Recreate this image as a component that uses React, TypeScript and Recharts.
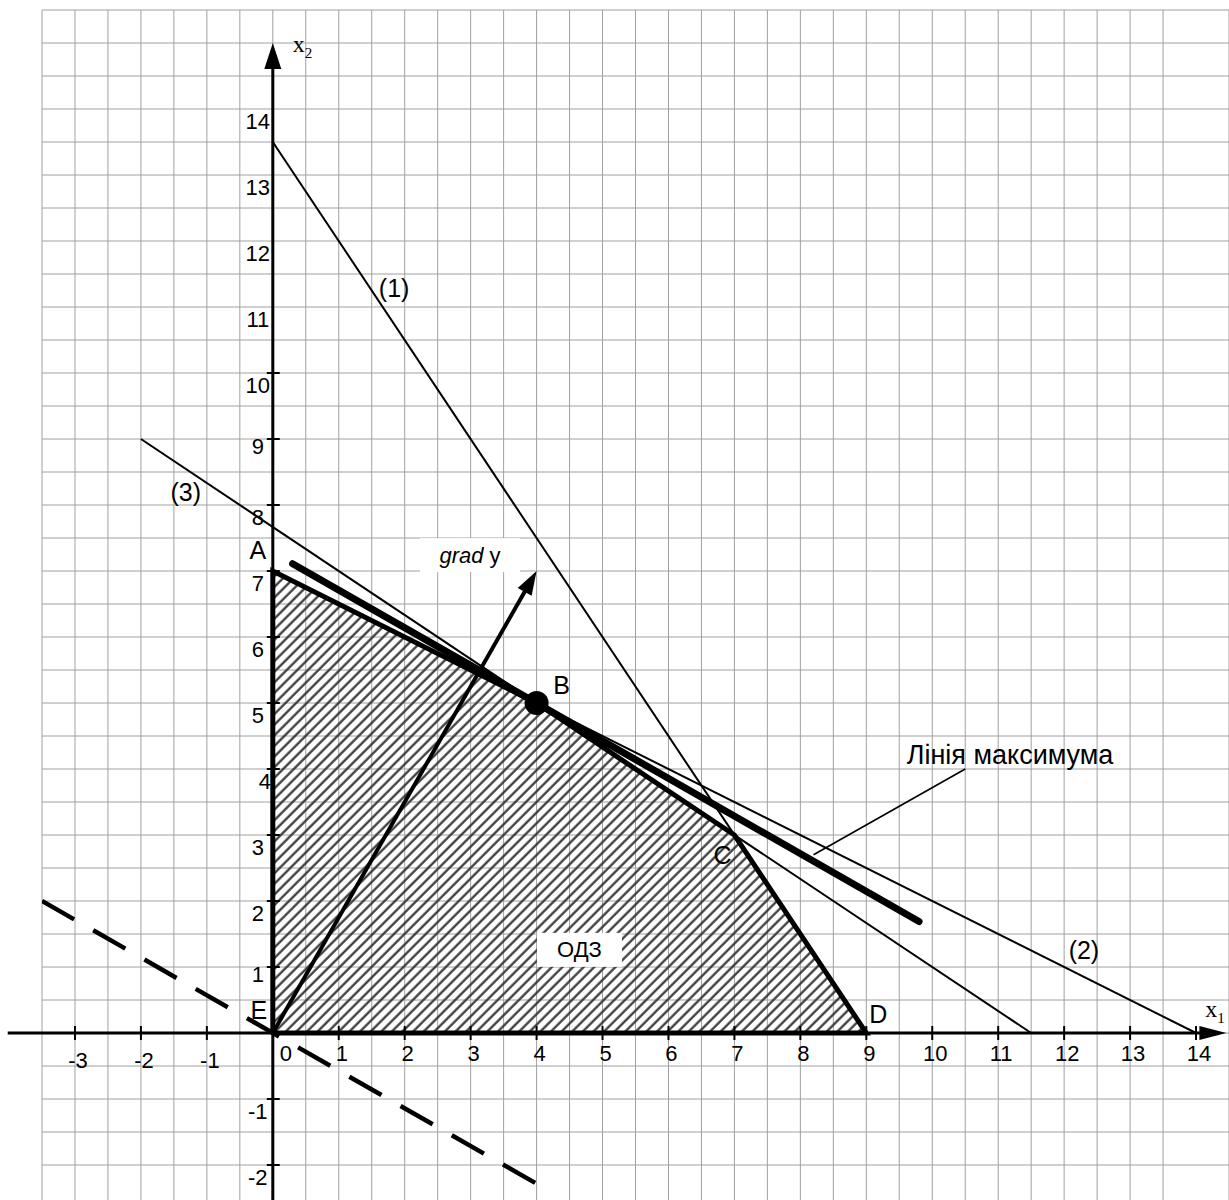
import { ComposedChart, Line, Area, XAxis, YAxis, CartesianGrid, ReferenceLine, ReferenceDot } from 'recharts';

// feasible region (ОДЗ) vertices
const vertexNames = ['E', 'A', 'B', 'C', 'D'];
const vertexX1 = [0, 0, 4, 7, 9];
const vertexX2 = [0, 7, 5, 3, 0];

// constraint lines (1), (2), (3) - end points
const line1X1 = [0, 9];
const line1X2 = [13.5, 0];
const line2X1 = [0, 14];
const line2X2 = [7, 0];
const line3X1 = [-2, 11.5];
const line3X2 = [9, 0];

// objective level lines: maximum line through B and the zero line
const maxLineX1 = [0.3, 9.8];
const maxLineX2 = [7.11, 1.69];
const zeroLineX1 = [-3.5, 4.1];
const zeroLineX2 = [2, -2.34];

// gradient vector
const gradX1 = [0, 4];
const gradX2 = [0, 7];

// leader from the caption to the maximum line
const leaderX1 = [10.5, 8.2];
const leaderX2 = [4.0, 2.7];

// axis ticks and labels
const xTickValues = [-3, -2, -1, 1, 2, 3, 4, 5, 6, 7, 8, 9, 10, 11, 12, 13, 14];
const xLabelValues = [-3, -2, -1, 0, 1, 2, 3, 4, 5, 6, 7, 8, 9, 10, 11, 12, 13, 14];
const yTickValues = [-2, -1, 1, 2, 3, 4, 5, 6, 7, 8, 9, 10];
const yLabelValues = [-2, -1, 1, 2, 3, 4, 5, 6, 7, 8, 9, 10, 11, 12, 13, 14];

// captions
const captionTexts = ['(1)', '(2)', '(3)', 'ОДЗ', 'Лінія максимума'];
const captionX1 = [1.84, 12.3, -1.32, 4.65, 11.18];
const captionX2 = [11.29, 1.26, 8.2, 1.26, 4.21];

const X_DOMAIN = [-3.5, 14.5];
const Y_DOMAIN = [-2.53, 15.5];

// half-unit graph paper
const xGrid = Array.from({ length: 37 }, (_, i) => -3.5 + i * 0.5);
const yGrid = Array.from({ length: 37 }, (_, i) => -2.5 + i * 0.5);

const pts = (xs: number[], ys: number[]) => xs.map((x, i) => ({ x1: x, x2: ys[i] }));

const FONT = '"Liberation Sans", Arial, sans-serif';
const SERIF = '"Liberation Serif", "Times New Roman", serif';

const vertexOffsets: Record<string, [number, number]> = {
  E: [-14, -23],
  A: [-15, -21],
  B: [25, -18],
  C: [-12, 20],
  D: [12, -19],
};

const Arrow = ({ x1, y1, x2, y2, width = 3, head = 26, half = 8 }: any) => {
  const dx = x2 - x1;
  const dy = y2 - y1;
  const len = Math.hypot(dx, dy) || 1;
  const ux = dx / len;
  const uy = dy / len;
  const bx = x2 - ux * head;
  const by = y2 - uy * head;
  return (
    <g>
      <line x1={x1} y1={y1} x2={bx + ux * 2} y2={by + uy * 2} stroke="#000" strokeWidth={width} />
      <polygon
        points={`${x2},${y2} ${bx - uy * half},${by + ux * half} ${bx + uy * half},${by - ux * half}`}
        fill="#000"
      />
    </g>
  );
};

const Caption = ({ cx, cy, text, size = 24, box }: any) => (
  <g>
    {box && <rect x={cx - box[0] / 2} y={cy - box[1] / 2} width={box[0]} height={box[1]} fill="#fff" />}
    <text x={cx} y={cy} textAnchor="middle" dominantBaseline="central" fontFamily={FONT} fontSize={size} fill="#000">
      {text}
    </text>
  </g>
);

const App = () => {
  const hatchTop = pts(vertexX1.slice(1), vertexX2.slice(1));
  const boundary = pts([...vertexX1, vertexX1[0]], [...vertexX2, vertexX2[0]]);

  return (
    <div>
      <style>{'body{margin:0}'}</style>
      <ComposedChart width={1229} height={1200} margin={{ top: 10, right: 0, bottom: 0, left: 42 }}>
        <defs>
          <pattern id="hatch" patternUnits="userSpaceOnUse" width="7.5" height="7.5" patternTransform="rotate(45)">
            <line x1="1.5" y1="0" x2="1.5" y2="7.5" stroke="#333" strokeWidth={2.2} />
          </pattern>
        </defs>
        <XAxis dataKey="x1" type="number" domain={X_DOMAIN} ticks={xGrid} allowDataOverflow hide />
        <YAxis type="number" domain={Y_DOMAIN} ticks={yGrid} allowDataOverflow hide />
        <CartesianGrid stroke="#a0a0a0" strokeWidth={1} horizontalValues={yGrid} verticalValues={xGrid} />

        <Area
          data={hatchTop}
          dataKey="x2"
          type="linear"
          baseValue={0}
          stroke="none"
          fill="url(#hatch)"
          fillOpacity={1}
          isAnimationActive={false}
        />

        <Line data={pts(line1X1, line1X2)} dataKey="x2" type="linear" stroke="#000" strokeWidth={2} dot={false} isAnimationActive={false} />
        <Line data={pts(line2X1, line2X2)} dataKey="x2" type="linear" stroke="#000" strokeWidth={2} dot={false} isAnimationActive={false} />
        <Line data={pts(line3X1, line3X2)} dataKey="x2" type="linear" stroke="#000" strokeWidth={2} dot={false} isAnimationActive={false} />
        <Line data={boundary} dataKey="x2" type="linear" stroke="#000" strokeWidth={5} strokeLinejoin="miter" dot={false} isAnimationActive={false} />
        <Line data={pts(maxLineX1, maxLineX2)} dataKey="x2" type="linear" stroke="#000" strokeWidth={7} strokeLinecap="round" dot={false} isAnimationActive={false} />
        <Line data={pts(zeroLineX1, zeroLineX2)} dataKey="x2" type="linear" stroke="#000" strokeWidth={4.5} strokeDasharray="37 22" dot={false} isAnimationActive={false} />
        <Line data={pts(leaderX1, leaderX2)} dataKey="x2" type="linear" stroke="#000" strokeWidth={1.6} dot={false} isAnimationActive={false} />

        {/* axes */}
        <ReferenceLine
          segment={[{ x: -4.02, y: 0 }, { x: 14.46, y: 0 }]}
          ifOverflow="visible"
          shape={(p: any) => <Arrow {...p} width={3} head={27} half={7} />}
        />
        <ReferenceLine
          segment={[{ x: 0, y: -2.53 }, { x: 0, y: 15 }]}
          ifOverflow="visible"
          shape={(p: any) => <Arrow {...p} width={3} head={26} half={8.5} />}
        />
        <ReferenceLine
          segment={[{ x: gradX1[0], y: gradX2[0] }, { x: gradX1[1], y: gradX2[1] }]}
          ifOverflow="visible"
          shape={(p: any) => <Arrow {...p} width={4} head={24} half={8} />}
        />

        {xTickValues.map((v) => (
          <ReferenceDot
            key={`xt${v}`}
            x={v}
            y={0}
            ifOverflow="visible"
            shape={(p: any) => <line x1={p.cx} y1={p.cy - 7} x2={p.cx} y2={p.cy + 7} stroke="#000" strokeWidth={2} />}
          />
        ))}
        {yTickValues.map((v) => (
          <ReferenceDot
            key={`yt${v}`}
            x={0}
            y={v}
            ifOverflow="visible"
            shape={(p: any) => <line x1={p.cx - 6} y1={p.cy} x2={p.cx + 7} y2={p.cy} stroke="#000" strokeWidth={2} />}
          />
        ))}
        {xLabelValues.map((v) => (
          <ReferenceDot
            key={`xl${v}`}
            x={v}
            y={0}
            ifOverflow="visible"
            shape={(p: any) => (
              <text
                x={p.cx + (v === 0 ? 13 : 3)}
                y={p.cy + (v < 0 ? 27 : 20)}
                textAnchor="middle"
                dominantBaseline="central"
                fontFamily={FONT}
                fontSize={22}
              >
                {v}
              </text>
            )}
          />
        ))}
        {yLabelValues.map((v) => (
          <ReferenceDot
            key={`yl${v}`}
            x={0}
            y={v}
            ifOverflow="visible"
            shape={(p: any) => (
              <text
                x={p.cx - (v === 4 ? 8 : 15)}
                y={p.cy + (v === 9 || v === 1 ? 7 : 12)}
                textAnchor="middle"
                dominantBaseline="central"
                fontFamily={FONT}
                fontSize={22}
              >
                {v}
              </text>
            )}
          />
        ))}

        <ReferenceDot x={vertexX1[2]} y={vertexX2[2]} r={12} fill="#000" stroke="none" ifOverflow="visible" />

        {vertexNames.map((name, i) => (
          <ReferenceDot
            key={name}
            x={vertexX1[i]}
            y={vertexX2[i]}
            ifOverflow="visible"
            shape={(p: any) => (
              <Caption cx={p.cx + vertexOffsets[name][0]} cy={p.cy + vertexOffsets[name][1]} text={name} size={25} />
            )}
          />
        ))}

        {captionTexts.map((t, i) => (
          <ReferenceDot
            key={t}
            x={captionX1[i]}
            y={captionX2[i]}
            ifOverflow="visible"
            shape={(p: any) => (
              <Caption
                cx={p.cx}
                cy={p.cy}
                text={t}
                size={t === 'ОДЗ' ? 22 : t.length > 5 ? 27 : 25}
                box={t === 'ОДЗ' ? [85, 34] : undefined}
              />
            )}
          />
        ))}

        <ReferenceDot
          x={2.99}
          y={7.24}
          ifOverflow="visible"
          shape={(p: any) => (
            <g>
              <rect x={p.cx - 50} y={p.cy - 17} width={100} height={34} fill="#fff" />
              <text x={p.cx} y={p.cy} textAnchor="middle" dominantBaseline="central" fontFamily={FONT} fontSize={22}>
                <tspan fontStyle="italic">grad</tspan> y
              </text>
            </g>
          )}
        />

        {/* axis names */}
        <ReferenceDot
          x={0}
          y={15}
          ifOverflow="visible"
          shape={(p: any) => (
            <text x={p.cx + 20} y={p.cy + 9} fontFamily={SERIF} fontSize={24}>
              x<tspan fontSize={15} dy={6}>2</tspan>
            </text>
          )}
        />
        <ReferenceDot
          x={14.46}
          y={0}
          ifOverflow="visible"
          shape={(p: any) => (
            <text x={p.cx - 21} y={p.cy - 16} fontFamily={SERIF} fontSize={24}>
              x<tspan fontSize={15} dy={6}>1</tspan>
            </text>
          )}
        />
      </ComposedChart>
    </div>
  );
};

export default App;
